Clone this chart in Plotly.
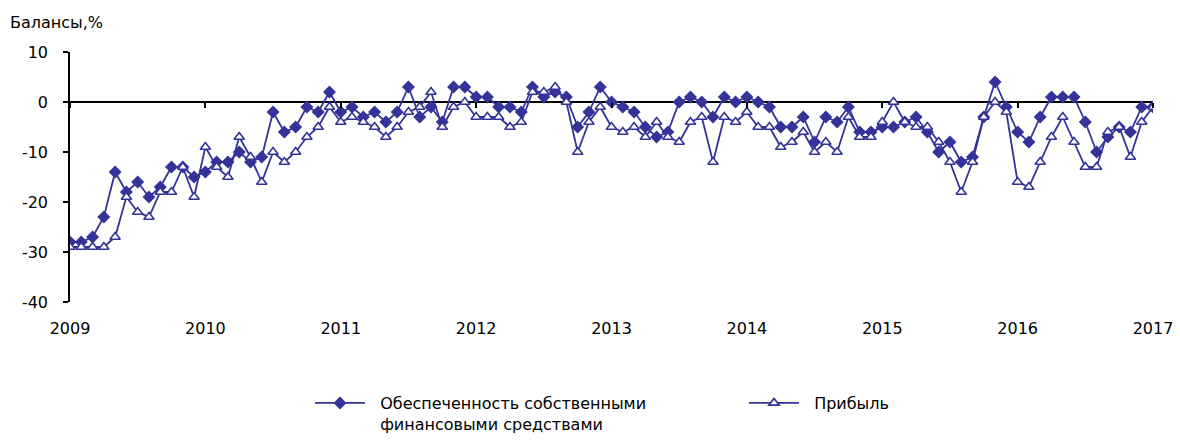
import plotly.graph_objects as go

years = ["2009", "2010", "2011", "2012", "2013", "2014", "2015", "2016", "2017"]
y_ticks = [-40, -30, -20, -10, 0, 10]
y_tick_labels = ["-40", "-30", "-20", "-10", "0", "10"]

own_funds = [-28, -28, -27, -23, -14, -18, -16, -19, -17, -13, -13, -15,
             -14, -12, -12, -10, -12, -11, -2, -6, -5, -1, -2, 2,
             -2, -1, -3, -2, -4, -2, 3, -3, -1, -4, 3, 3,
             1, 1, -1, -1, -2, 3, 1, 2, 1, -5, -2, 3,
             0, -1, -2, -5, -7, -6, 0, 1, 0, -3, 1, 0,
             1, 0, -1, -5, -5, -3, -8, -3, -4, -1, -6, -6,
             -5, -5, -4, -3, -6, -10, -8, -12, -11, -3, 4, -1,
             -6, -8, -3, 1, 1, 1, -4, -10, -7, -5, -6, -1,
             -1]

profit = [-29, -29, -29, -29, -27, -19, -22, -23, -18, -18, -13, -19,
          -9, -13, -15, -7, -11, -16, -10, -12, -10, -7, -5, -1,
          -4, -3, -4, -5, -7, -5, -2, -1, 2, -5, -1, 0,
          -3, -3, -3, -5, -4, 2, 2, 3, 0, -10, -4, -1,
          -5, -6, -5, -7, -4, -7, -8, -4, -3, -12, -3, -4,
          -2, -5, -5, -9, -8, -6, -10, -8, -10, -3, -7, -7,
          -4, 0, -4, -5, -5, -8, -12, -18, -12, -3, 0, -2,
          -16, -17, -12, -7, -3, -8, -13, -13, -6, -5, -11, -4,
          -1]

name1 = "\u00a0\u00a0Обеспеченность собственными<br>\u00a0\u00a0финансовыми средствами"
name2 = "\u00a0\u00a0Прибыль"
y_title = "Балансы,%"

color = "#333399"
font_family = "DejaVu Sans, Noto Sans, sans-serif"

months = list(range(len(own_funds)))
year_pos = [12 * k for k in range(len(years))]

fig = go.Figure()
fig.add_trace(go.Scatter(
    x=months, y=own_funds, name=name1, mode="lines+markers",
    line=dict(color=color, width=1.8),
    marker=dict(symbol="diamond", size=10, color=color, line=dict(width=0)),
    xaxis="x", yaxis="y",
))
fig.add_trace(go.Scatter(
    x=months, y=profit, name=name2, mode="lines+markers",
    line=dict(color=color, width=1.8),
    marker=dict(symbol="triangle-up", size=9, color="white",
                line=dict(color=color, width=1.6)),
    xaxis="x2", yaxis="y",
))

fig.update_layout(
    width=1180, height=440,
    margin=dict(l=70, r=27, t=52, b=138, autoexpand=False),
    paper_bgcolor="white", plot_bgcolor="white",
    font=dict(family=font_family, size=16, color="black"),
    showlegend=True,
    title=dict(text=y_title, x=10 / 1180, xanchor="left", xref="container",
               y=1 - 22 / 440, yanchor="middle", yref="container",
               font=dict(size=16)),
    xaxis=dict(
        range=[0, len(own_funds) - 1],
        tickvals=year_pos, ticktext=years,
        showline=False, showgrid=False, zeroline=False,
        ticks="", ticklabelstandoff=15,
        tickfont=dict(size=16),
    ),
    xaxis2=dict(
        matches="x", overlaying="x", anchor="free", position=0.8,
        range=[0, len(own_funds) - 1],
        tickvals=year_pos, showticklabels=False,
        showline=False, showgrid=False, zeroline=False,
        ticks="outside", ticklen=5, tickwidth=1.5, tickcolor="black",
    ),
    yaxis=dict(
        range=[-40, 10],
        tickvals=y_ticks, ticktext=y_tick_labels,
        showline=True, linecolor="black", linewidth=1.5,
        ticks="outside", ticklen=5, tickwidth=1.5, tickcolor="black",
        showgrid=False,
        zeroline=True, zerolinecolor="black", zerolinewidth=2,
        ticklabelstandoff=12,
        tickfont=dict(size=16),
    ),
    legend=dict(
        orientation="h", x=0.2216, xanchor="left", y=-0.336, yanchor="top",
        valign="top", font=dict(size=16),
        entrywidth=369, entrywidthmode="pixels",
        itemwidth=50, bgcolor="rgba(0,0,0,0)",
    ),
)

fig.write_html(
    "out.html",
    config={"displayModeBar": False},
    post_script="document.body.style.margin='0px';document.body.style.overflow='hidden';",
)
